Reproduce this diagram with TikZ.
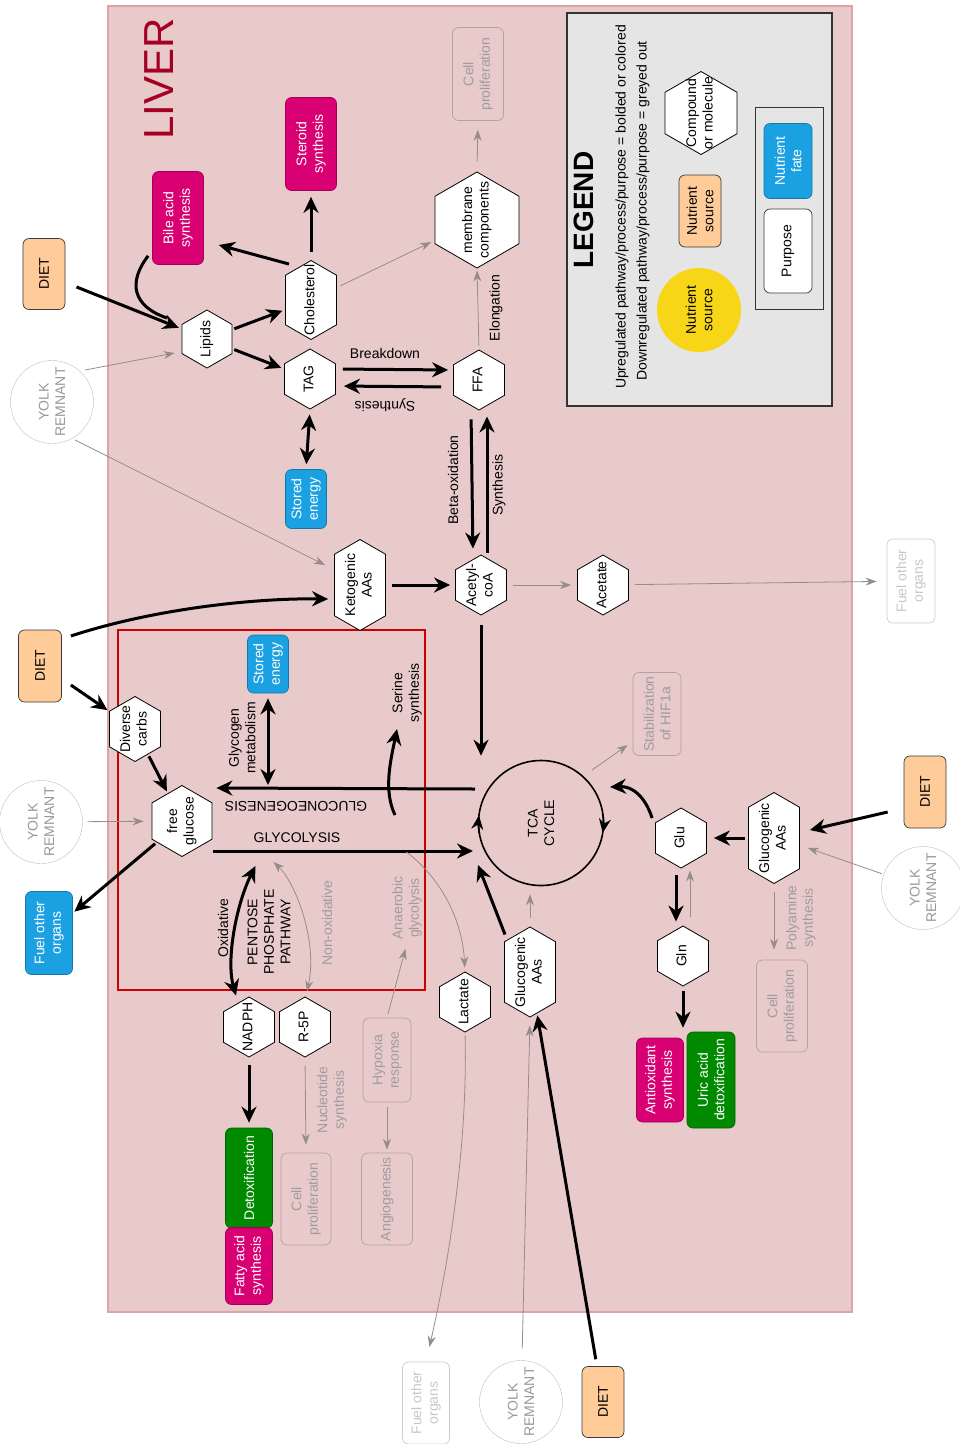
\documentclass[tikz,border=0pt]{standalone}
\usepackage{fontspec}
\setmainfont{Liberation Sans}
\usetikzlibrary{shapes.symbols,arrows.meta,calc}

\definecolor{liverbg}{RGB}{233,202,202}
\definecolor{liverline}{RGB}{220,165,165}
\definecolor{liverred}{RGB}{165,0,33}
\definecolor{boxred}{RGB}{204,0,0}
\definecolor{fateblue}{RGB}{27,161,226}
\definecolor{purpmag}{RGB}{216,0,115}
\definecolor{detoxgreen}{RGB}{0,138,0}
\definecolor{dietorange}{RGB}{255,204,153}
\definecolor{srcyellow}{RGB}{246,214,22}
\definecolor{legendgrey}{RGB}{229,229,229}
\definecolor{boxedge}{RGB}{54,57,61}
\definecolor{greyline}{RGB}{150,140,140}
\definecolor{greytext}{RGB}{160,155,158}
\definecolor{fadedline}{RGB}{182,160,160}

\newcommand{\hx}[1]{\makebox[0pt]{\begin{tabular}{@{}c@{}}#1\end{tabular}}}

\begin{document}
\begin{tikzpicture}[x=1pt,y=-1pt,
  every node/.style={font=\fontsize{14}{16.5}\selectfont},
  hexa/.style={signal,signal to=east and west,signal pointer angle=120,draw,fill=white,line width=0.8pt,rotate=90,inner sep=0pt,minimum width=60pt,minimum height=51pt},
  box/.style={rectangle,rounded corners=6pt,rotate=90,inner sep=0pt,align=center,line width=0.7pt},
  fate/.style={box,fill=fateblue,draw=fateblue!75!black,text=white},
  purpose/.style={box,fill=purpmag,draw=purpmag!75!black,text=white},
  detoxbox/.style={box,fill=detoxgreen,draw=detoxgreen!70!black,text=white},
  diet/.style={box,fill=dietorange,draw=boxedge,minimum width=71pt,minimum height=42pt},
  faded/.style={box,draw=fadedline,text=greytext},
  fadedout/.style={box,draw=black!20,text=black!22},
  yolk/.style={circle,draw=black!25,fill=white,text=black!40,rotate=90,minimum size=83pt,inner sep=0pt,align=center},
  lbl/.style={rotate=90,align=center},
  arr/.style={line width=3pt,-{Stealth[length=16pt,width=15pt]}},
  darr/.style={line width=3pt,{Stealth[length=16pt,width=15pt]}-{Stealth[length=16pt,width=15pt]}},
  garr/.style={draw=greyline,line width=0.8pt,-{Stealth[length=11pt,width=8pt]}},
  gdarr/.style={draw=greyline,line width=0.8pt,{Stealth[length=11pt,width=8pt]}-{Stealth[length=11pt,width=8pt]}}]
\useasboundingbox (0,0) rectangle (960,1444);

\draw[fill=liverbg,draw=liverline,line width=1.5pt] (108,6) rectangle (852,1312);
\node[rotate=90,text=liverred,font=\fontsize{42}{48}\selectfont] (liver) at (159,79) {LIVER};
\draw[boxred,line width=2pt] (118,630) rectangle (425,990);

\draw[fill=legendgrey,draw=black!80,line width=1.2pt] (567,13) rectangle (832,406);
\node[lbl,font=\fontsize{28}{32}\selectfont\bfseries] (legend) at (584,210) {LEGEND};
\node[lbl] (uptext) at (622,207) {Upregulated pathway/process/purpose = bolded or colored};
\node[lbl] (downtext) at (643,211) {Downregulated pathway/process/purpose = greyed out};
\node[lbl,circle,fill=srcyellow,minimum size=84pt,inner sep=0pt] (srcdot) at (699,310) {Nutrient\\source};
\node[diet,minimum width=72pt,minimum height=42pt] (srcbox) at (700,211) {Nutrient\\source};
\node[hexa,minimum width=83pt,minimum height=72pt] (cmpd) at (701,113) {\hx{Compound\\or molecule}};
\draw[fill=legendgrey,draw=black!80,line width=1pt] (755,107) rectangle (823,309);
\node[fate,minimum width=75pt,minimum height=48pt] (fatekey) at (788,161) {Nutrient\\fate};
\node[box,fill=white,draw=boxedge,minimum width=84pt,minimum height=48pt] (purpkey) at (788,251) {Purpose};

\node[faded,minimum width=93pt,minimum height=51pt] (cellN) at (478,74) {Cell\\proliferation};
\node[hexa,minimum width=96pt,minimum height=84pt] (membr) at (477,220) {\hx{membrane\\components}};
\node[purpose,minimum width=93pt,minimum height=51pt] (steroid) at (311,144) {Steroid\\synthesis};
\node[purpose,minimum width=93pt,minimum height=51pt] (bile) at (178,218) {Bile acid\\synthesis};
\node[hexa,minimum width=79pt] (chol) at (311,300) {\hx{Cholesterol}};
\node[hexa,minimum width=58pt,minimum height=50pt] (lipids) at (207,339) {\hx{Lipids}};
\node[hexa] (tag) at (310,379) {\hx{TAG}};
\node[hexa] (ffa) at (479,380) {\hx{FFA}};
\node[fate,minimum width=59pt,minimum height=41pt] (storeA) at (306,499) {Stored\\energy};
\node[diet] (dietA) at (44,274) {DIET};
\node[yolk] (yolkA) at (52,402) {YOLK\\REMNANT};

\node[hexa,minimum width=91pt] (keto) at (360,585) {\hx{Ketogenic\\AAs}};
\node[hexa] (acoa) at (481,585) {\hx{Acetyl-\\coA}};
\node[hexa] (acet) at (603,585) {\hx{Acetate}};
\node[fadedout,minimum width=84pt,minimum height=48pt] (fuelE) at (911,581) {Fuel other\\organs};
\node[diet,minimum width=72pt,minimum height=43pt] (dietB) at (40,666) {DIET};
\node[hexa,minimum width=65pt] (carbs) at (135,729) {\hx{Diverse\\carbs}};
\node[hexa,minimum width=71pt,minimum height=60pt] (glc) at (182,821) {\hx{free\\glucose}};
\node[yolk] (yolkB) at (41,822) {YOLK\\REMNANT};
\node[fate,minimum width=83pt,minimum height=47pt] (fuelW) at (49,933) {Fuel other\\organs};
\node[fate,minimum width=58pt,minimum height=41pt] (storeB) at (268,664) {Stored\\energy};
\node[circle,rotate=90,draw,line width=1.6pt,minimum size=125pt,inner sep=0pt,align=center] (tca) at (541,823) {TCA\\CYCLE};
\node[faded,minimum width=83pt,minimum height=48pt] (hif) at (657,714) {Stabilization\\of HIF1a};
\node[hexa] (glu) at (681,838) {\hx{Glu}};
\node[hexa,minimum width=91pt] (gaaE) at (774,838) {\hx{Glucogenic\\AAs}};
\node[diet,minimum width=72pt] (dietC) at (925,792) {DIET};
\node[yolk] (yolkC) at (923,888) {YOLK\\REMNANT};
\node[faded,minimum width=92pt,minimum height=51pt] (cellE) at (782,1006) {Cell\\proliferation};
\node[hexa] (gln) at (683,956) {\hx{Gln}};
\node[purpose,minimum width=84pt,minimum height=47pt] (antiox) at (660,1080) {Antioxidant\\synthesis};
\node[detoxbox,minimum width=96pt,minimum height=48pt] (uric) at (711,1080) {Uric acid\\detoxification};

\node[hexa,minimum width=90pt] (gaaS) at (530,972) {\hx{Glucogenic\\AAs}};
\node[hexa] (lact) at (465,1002) {\hx{Lactate}};
\node[hexa] (nadph) at (249,1027) {\hx{NADPH}};
\node[hexa] (r5p) at (305,1027) {\hx{R-5P}};
\node[detoxbox,minimum width=100pt,minimum height=47pt] (detox) at (249,1178) {Detoxification};
\node[purpose,minimum width=77pt,minimum height=47pt] (fas) at (249,1266) {Fatty acid\\synthesis};
\node[faded,minimum width=92pt,minimum height=50pt] (cellS) at (306,1199) {Cell\\proliferation};
\node[faded,minimum width=84pt,minimum height=48pt] (hypox) at (387,1060) {Hypoxia\\response};
\node[faded,minimum width=92pt,minimum height=51pt] (angio) at (387,1199) {Angiogenesis};
\node[fadedout,minimum width=82pt,minimum height=47pt] (fuelS) at (426,1403) {Fuel other\\organs};
\node[yolk] (yolkD) at (521,1402) {YOLK\\REMNANT};
\node[diet] (dietD) at (603,1402) {DIET};

\node (brk) at (385,353) {Breakdown};
\node[rotate=180] (synA) at (385,405) {Synthesis};
\node[lbl] (betaox) at (453,480) {Beta-oxidation};
\node[lbl] (synB) at (499,485) {Synthesis};
\node[lbl] (elong) at (496,308) {Elongation};
\node[lbl] (glycogen) at (242,738) {Glycogen\\metabolism};
\node[rotate=180] (gng) at (296,806) {GLUCONEOGENESIS};
\node (glys) at (297,838) {GLYCOLYSIS};
\node[lbl] (serine) at (407,693) {Serine\\synthesis};
\node[lbl] (oxid) at (223,928) {Oxidative};
\node[lbl] (ppp) at (269,932) {PENTOSE\\PHOSPHATE\\PATHWAY};
\node[lbl,text=greytext] (nonox) at (327,923) {Non-oxidative};
\node[lbl,text=greytext] (anaer) at (407,908) {Anaerobic\\glycolysis};
\node[lbl,text=greytext] (nucl) at (332,1100) {Nucleotide\\synthesis};
\node[lbl,text=greytext] (polya) at (801,918) {Polyamine\\synthesis};

\coordinate (gngstart) at ($(tca.center)+(-66,-34)$);
\coordinate (glystart) at ($(glc.south)+(1,30)$);

\draw[arr,shorten <=12pt,shorten >=3pt] (dietA) -- (lipids);
\draw[line width=3pt] ($(bile.north west)+(-4,-9)$) .. controls (128,282) and (132,306) .. ($(lipids)+(-40,-21)$);
\draw[arr,shorten <=2pt,shorten >=3pt] (lipids) -- (chol);
\draw[arr,shorten <=2pt,shorten >=3pt] (lipids) -- (tag);
\draw[arr] ($(chol.east)+(-22,4)$) -- ($(bile.south)+(15,27)$);
\draw[arr,shorten <=8pt,shorten >=6pt] (chol.east) -- (steroid.west);
\draw[garr,shorten <=4pt,shorten >=4pt] (chol) -- (membr);
\draw[garr,shorten <=4pt,shorten >=2pt] (ffa.east) -- (membr.west);
\draw[garr,shorten <=10pt,shorten >=9pt] (membr.east) -- (cellN.west);
\draw[garr] ($(yolkA)+(33,-32)$) -- ($(lipids.north)+(-7,14)$);
\draw[garr] ($(yolkA)+(23,38)$) -- ($(keto.north)+(-9,-20)$);
\draw[darr,shorten <=5pt,shorten >=5pt] (tag.west) -- (storeA.east);
\draw[arr,shorten <=7pt,shorten >=5pt] ($(tag.south)+(0,-10)$) -- ($(ffa.north)+(0,-10)$);
\draw[arr,shorten <=12pt,shorten >=8pt] ($(ffa.north)+(0,7)$) -- ($(tag.south)+(0,7)$);
\draw[arr,shorten <=9pt,shorten >=6pt] ($(ffa.west)+(-8,0)$) -- ($(acoa.east)+(-8,0)$);
\draw[arr,shorten <=2pt,shorten >=6pt] ($(acoa.east)+(6,0)$) -- ($(ffa.west)+(8,0)$);
\draw[arr,shorten <=6pt,shorten >=5pt] (keto) -- (acoa);
\draw[garr,shorten <=6pt,shorten >=6pt] (acoa) -- (acet);
\draw[garr,shorten <=6pt,shorten >=10pt] (acet) -- (fuelE);

\draw[arr] ($(dietB.south)+(9,-30)$) .. controls (150,610) and (250,598) .. ($(keto.north)+(-6,14)$);
\draw[arr,shorten >=2pt] ($(dietB.south)+(9,19)$) -- (carbs);
\draw[arr,shorten <=2pt,shorten >=2pt] (carbs) -- (glc);
\draw[garr,shorten <=5pt,shorten >=8pt] (yolkB) -- (glc);
\draw[arr,shorten <=2pt,shorten >=2pt] (glc) -- (fuelW);
\draw[darr,shorten <=5pt,shorten >=4pt] (storeB.west) -- (storeB.west |- gngstart);
\draw[arr] (gngstart) -- ($(glc.south)+(4,-33)$);
\draw[arr] ($(gngstart)+(-80,26)$) .. controls +(-12,-25) and +(-6,30) .. ($(gngstart)+(-78,-60)$);
\draw[arr] (glystart) -- ($(tca.center)+(-68,28)$);
\draw[darr] ($(glystart)+(42,15)$) .. controls (236,905) and (226,960) .. ($(nadph.east)+(-13,-1)$);
\draw[gdarr] ($(glystart)+(60,11)$) .. controls (295,882) and (318,940) .. ($(r5p.east)+(2,-5)$);
\draw[garr,shorten >=4pt] ($(glystart)+(193,1)$) .. controls (437,875) and (462,915) .. (lact.east);
\draw[garr,shorten <=4pt,shorten >=6pt] (hypox.east) -- (anaer.west);
\draw[garr,shorten <=5pt,shorten >=3pt] (hypox.west) -- (angio.east);
\draw[garr,shorten <=8pt,shorten >=8pt] (r5p.west) -- (cellS.east);
\draw[arr,shorten <=8pt,shorten >=5pt] (nadph.west) -- (detox.east);
\draw[garr,shorten <=3pt,shorten >=15pt] (lact.west) .. controls (468,1150) and (447,1270) .. (fuelS.east);

\draw[garr,shorten <=12pt,shorten >=8pt] (yolkD) -- (gaaS.west);
\draw[arr,shorten <=7pt,shorten >=2pt] (dietD) -- (gaaS);
\draw[arr] ($(gaaS.east)+(-25,8)$) -- ($(tca.center)+(-63,42)$);
\draw[garr,shorten <=9pt,shorten >=8pt] (gaaS.east) -- (gaaS.east |- tca.west);
\draw[arr,shorten <=10pt,shorten >=4pt] (acoa.west) -- (acoa.west |- tca.east);
\draw[garr] ($(tca.center)+(51,-53)$) -- ($(hif.north)+(-5,31)$);
\draw[line width=1.6pt,-{Stealth[length=14pt,width=12pt]}] ([shift={(-8:62.5)}]tca.center) arc (-8:9:62.5);
\draw[line width=1.6pt,-{Stealth[length=14pt,width=12pt]}] ([shift={(170:62.5)}]tca.center) arc (170:187:62.5);

\draw[arr] ($(glu.north)+(-3,-20)$) .. controls (645,796) and (632,786) .. ($(tca.center)+(69,-36)$);
\draw[arr,shorten <=3pt,shorten >=7pt] (gaaE) -- (glu);
\draw[arr] ($(dietC.north)+(-16,20)$) -- ($(gaaE.south)+(10,-8)$);
\draw[garr,shorten <=2pt] (yolkC) -- ($(gaaE.south)+(8,10)$);
\draw[garr,shorten <=8pt,shorten >=10pt] (gaaE.west) -- (gaaE.west |- cellE.east);
\draw[arr,shorten <=7pt,shorten >=4pt] ($(glu.west)+(-5,0)$) -- ($(gln.east)+(-7,0)$);
\draw[garr,shorten <=9pt,shorten >=2pt] ($(gln.east)+(7,0)$) -- ($(glu.west)+(9,0)$);
\draw[arr,shorten <=5pt,shorten >=10pt] (gln.west) -- (gln.west |- antiox.east);
\end{tikzpicture}
\end{document}
